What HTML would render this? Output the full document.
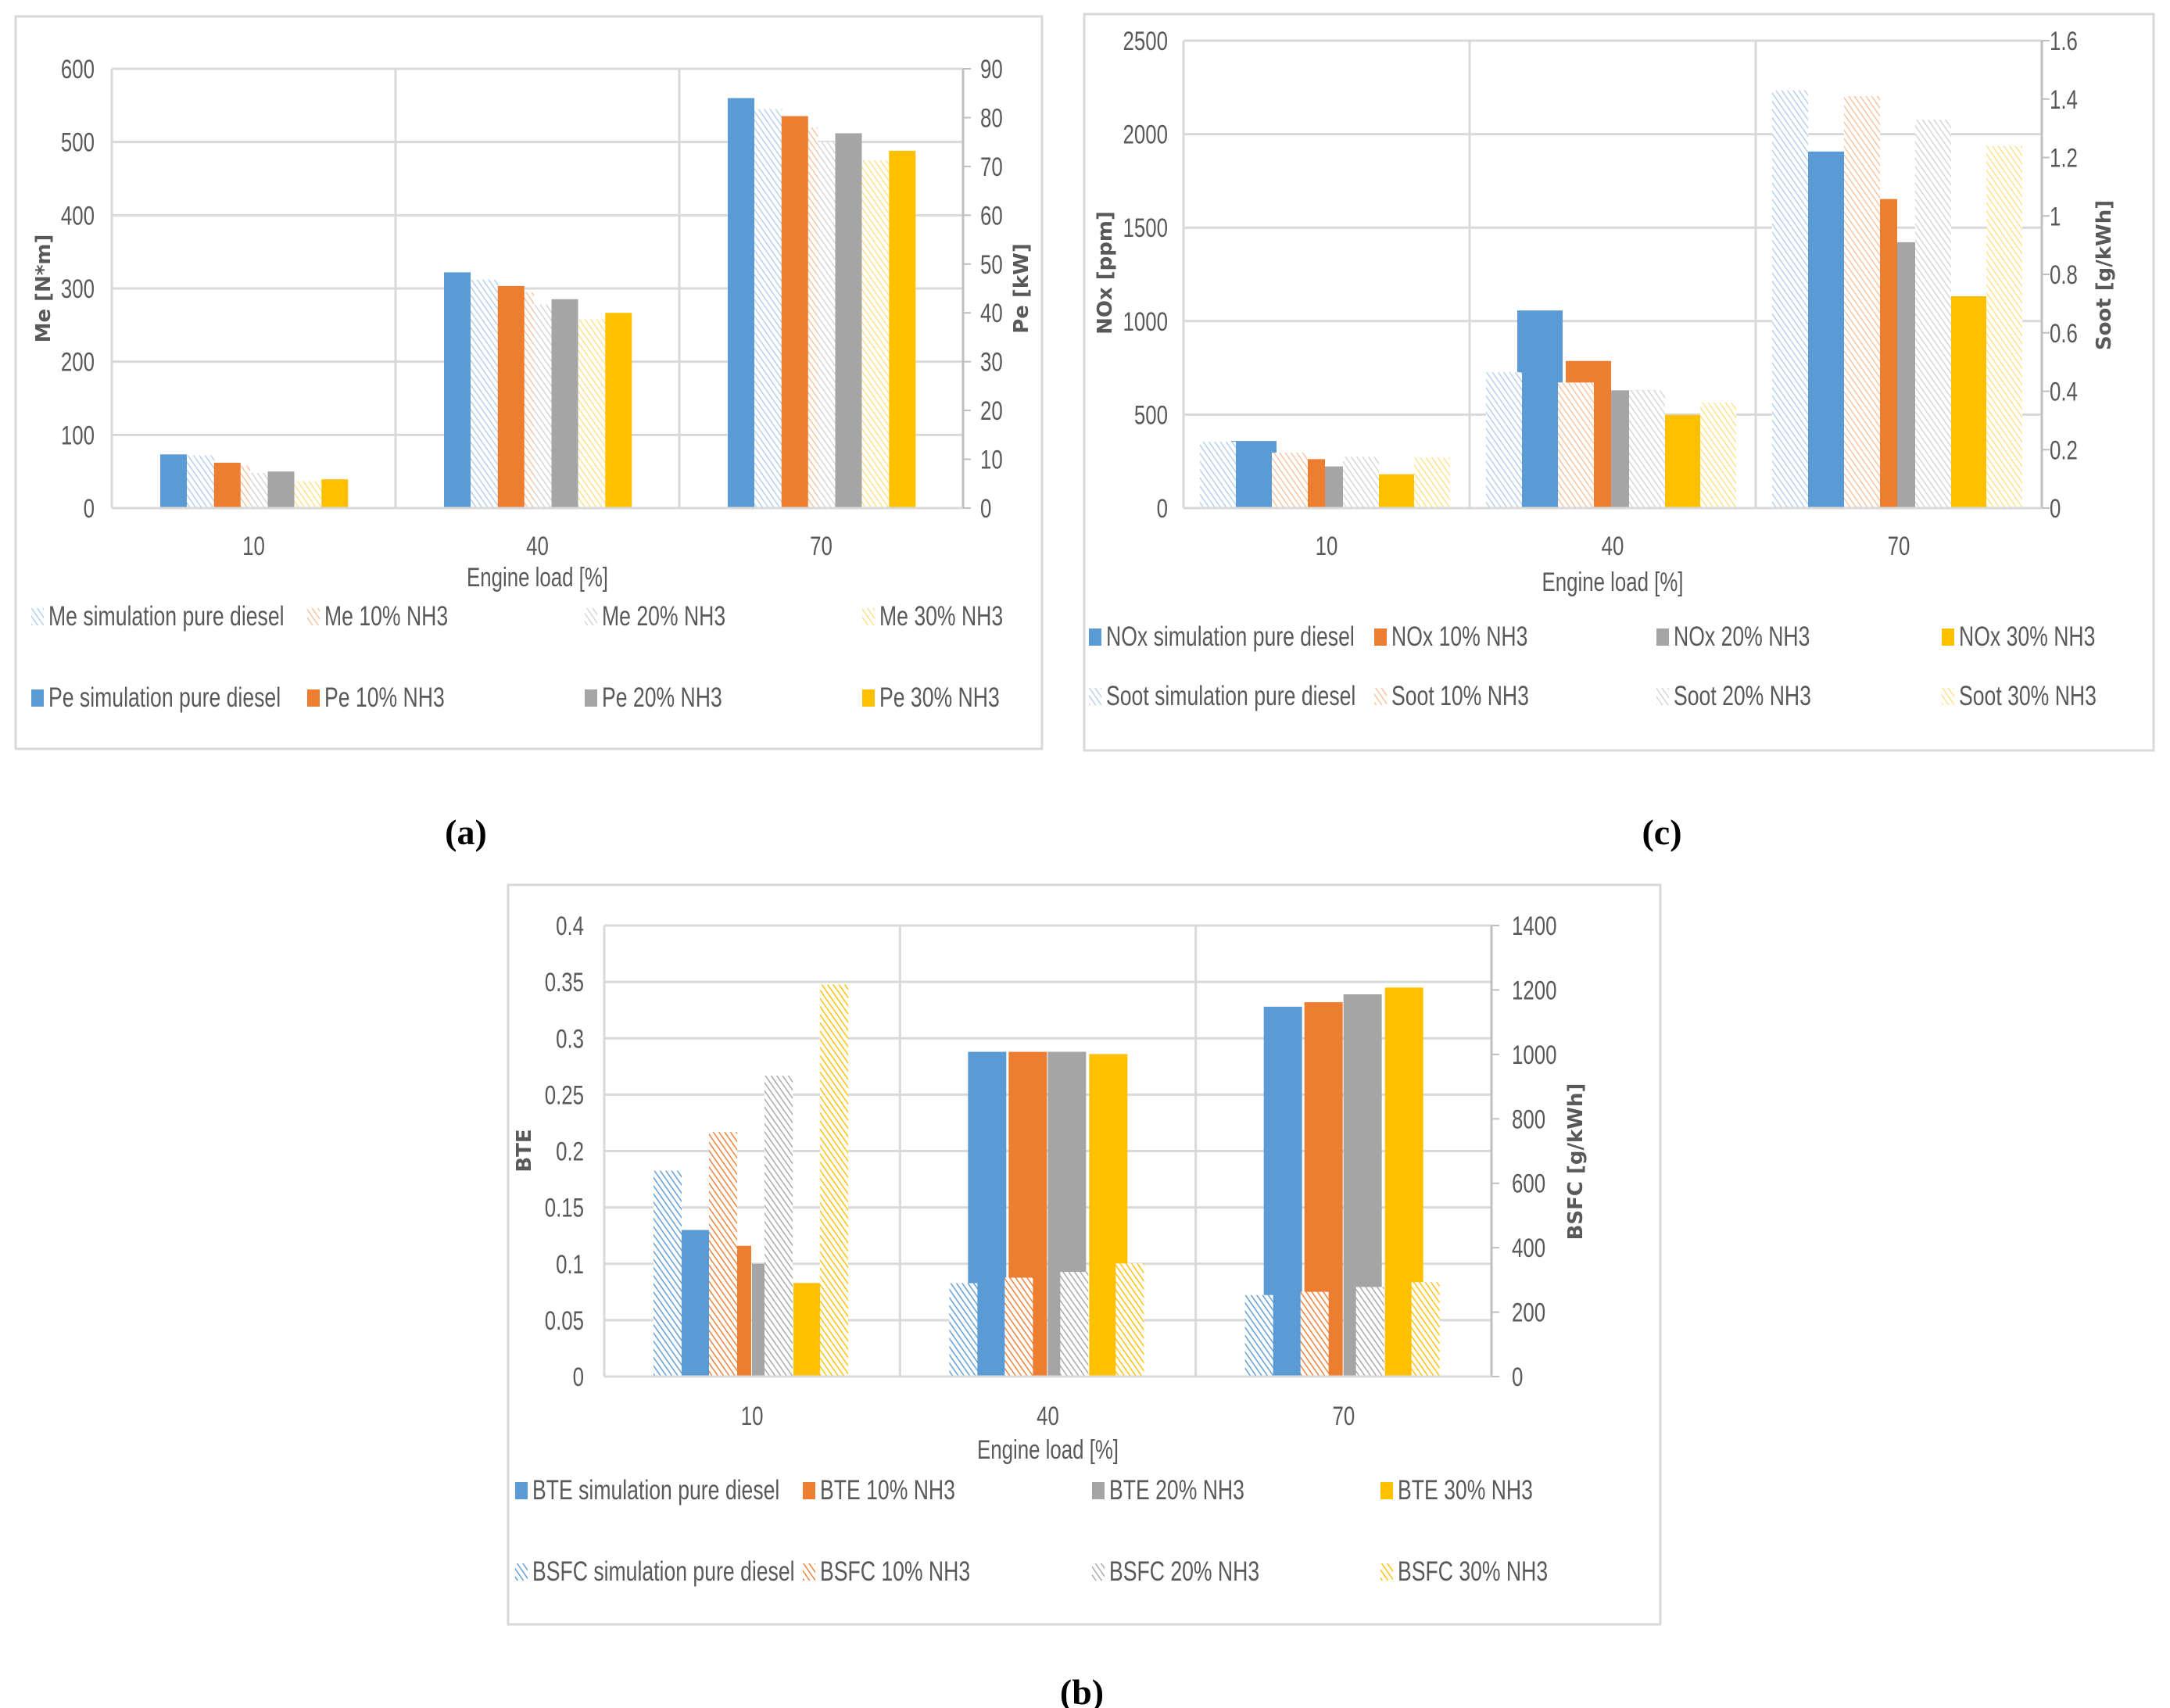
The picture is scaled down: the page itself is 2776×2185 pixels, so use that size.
<!DOCTYPE html>
<html><head><meta charset="utf-8"><title>Engine performance charts</title>
<style>
html,body{margin:0;padding:0;background:#fff;}
svg{display:block;}
text{font-family:"Liberation Sans",sans-serif;fill:#595959;}
.ttl{font-family:"DejaVu Sans","Liberation Sans",sans-serif;font-weight:bold;}
.lbl{font-family:"Liberation Serif",serif;font-weight:bold;fill:#000;}
</style></head>
<body>
<svg id="fig" width="2776" height="2185" viewBox="0 0 2776 2185" xmlns="http://www.w3.org/2000/svg">
<defs id="defs"></defs>
<rect width="2776" height="2185" fill="#fff"/>
</svg>
<script>
const cats=['10','40','70'];
// (a) torque and power
const meSim=[72,312,545], me10=[58,295,520], me20=[48,278,500], me30=[37,258,475];
const peSim=[11,48.3,84], pe10=[9.3,45.5,80.3], pe20=[7.5,42.8,76.8], pe30=[5.9,40,73.2];
const aLeftTicks=['0','100','200','300','400','500','600'];
const aRightTicks=['0','10','20','30','40','50','60','70','80','90'];
// (b) BTE and BSFC
const bteSim=[0.130,0.288,0.328], bte10=[0.116,0.288,0.332], bte20=[0.100,0.288,0.339], bte30=[0.083,0.286,0.345];
const bsfcSim=[639,290,253], bsfc10=[759,307,263], bsfc20=[934,325,278], bsfc30=[1217,351,293];
const bLeftTicks=['0','0.05','0.1','0.15','0.2','0.25','0.3','0.35','0.4'];
const bRightTicks=['0','200','400','600','800','1000','1200','1400'];
// (c) NOx and soot
const noxSim=[359,1057,1907], nox10=[262,787,1653], nox20=[223,630,1422], nox30=[181,498,1133];
const sootSim=[0.227,0.465,1.43], soot10=[0.19,0.43,1.41], soot20=[0.176,0.403,1.33], soot30=[0.173,0.361,1.24];
const cLeftTicks=['0','500','1000','1500','2000','2500'];
const cRightTicks=['0','0.2','0.4','0.6','0.8','1','1.2','1.4','1.6'];

const NS='http://www.w3.org/2000/svg';
const svg=document.getElementById('fig');
const defs=document.getElementById('defs');
const COL={blue:'#5b9bd5',orange:'#ed7d31',gray:'#a5a5a5',yellow:'#ffc000'};
const SX=0.76;
function mk(tag,attrs,parent){const e=document.createElementNS(NS,tag);for(const k in attrs)e.setAttribute(k,attrs[k]);(parent||svg).appendChild(e);return e;}
function ntext(x,y,str,size,anchor,parent){
  const t=mk('text',{x:0,y:0,'font-size':size,'text-anchor':anchor||'start',transform:'translate('+x+' '+y+') scale('+SX+' 1)'},parent);
  t.textContent=str;return t;
}
function hatch(id,color,op){
  const p=mk('pattern',{id:id,patternUnits:'userSpaceOnUse',width:6,height:6,patternTransform:'rotate(-35)'},defs);
  mk('rect',{width:6,height:6,fill:'#fff'},p);
  mk('line',{x1:0,y1:0,x2:0,y2:6,stroke:color,'stroke-width':3,'stroke-opacity':op},p);
}
for(const k in COL){hatch('hl-'+k,COL[k],0.45);hatch('hd-'+k,COL[k],0.95);}
const colorKeys=['blue','orange','gray','yellow'];

function panel(P){
  const g=mk('g',{});
  
  
  const fr=mk('rect',{x:P.fx0,y:P.fy0,width:P.fx1-P.fx0,height:P.fy1-P.fy0,fill:'#fff',stroke:'#d9d9d9','stroke-width':3},g);
  
  
  const H=P.y1-P.y0, cw=(P.x1-P.x0)/cats.length;
  const yL=v=>P.y1-v/P.lmax*H, yR=v=>P.y1-v/P.rmax*H, xC=i=>P.x0+i*cw;
  P.lt.forEach((t,i)=>{
    const y=P.y1-i*H/(P.lt.length-1);
    const gl=mk('line',{x1:P.x0,x2:P.x1,y1:y,y2:y,stroke:'#d9d9d9','stroke-width':3},g);
    
    
    const tx=ntext(P.ltx,y+12,t,34,'end',g);
    
    
  });
  P.rt.forEach((t,i)=>{
    const y=P.y1-i*H/(P.rt.length-1);
    mk('line',{x1:P.x1,x2:P.x1+10,y1:y,y2:y,stroke:'#bfbfbf','stroke-width':2},g);
    const tx=ntext(P.rtx,y+12,t,34,'start',g);
    
    
  });
  for(let i=1;i<cats.length;i++){const d=mk('line',{x1:xC(i),x2:xC(i),y1:P.y0,y2:P.y1,stroke:'#d9d9d9','stroke-width':3},g);
    
    }
  mk('line',{x1:P.x0,x2:P.x0,y1:P.y0,y2:P.y1,stroke:'#d9d9d9','stroke-width':3},g);
  mk('line',{x1:P.x1,x2:P.x1,y1:P.y0,y2:P.y1,stroke:'#bfbfbf','stroke-width':3},g);
  const drawSet=(S,axisFn)=>{
    S.series.forEach((arr,s)=>{
      arr.forEach((v,i)=>{
        const x=xC(i)+P.gOff+S.off[s], y=axisFn(v);
        const r=mk('rect',{x:x,y:y,width:S.w,height:P.y1-y,fill:S.fill(colorKeys[s])},g);
        
        
      });
    });
  };
  drawSet(P.back,P.back.axis==='L'?yL:yR);
  drawSet(P.front,P.front.axis==='L'?yL:yR);
  mk('line',{x1:P.x0,x2:P.x1,y1:P.y1,y2:P.y1,stroke:'#d9d9d9','stroke-width':3},g);
  cats.forEach((c,i)=>{const t=ntext(xC(i)+cw/2,P.catY,c,34,'middle',g);
    
    });
  const xt=ntext((P.x0+P.x1)/2,P.xtY,'Engine load [%]',34,'middle',g);
  
  
  const lt=mk('text',{x:P.ltX,y:P.ltY,'text-anchor':'middle','font-size':26,class:'ttl',transform:'rotate(-90 '+P.ltX+' '+P.ltY+')'},g);lt.textContent=P.lTitle;
  
  
  const rtt=mk('text',{x:P.rtX,y:P.rtY,'text-anchor':'middle','font-size':26,class:'ttl',transform:'rotate(-90 '+P.rtX+' '+P.rtY+')'},g);rtt.textContent=P.rTitle;
  
  
  P.legRows.forEach((row,r)=>{
    row.set.names.forEach((nm,s)=>{
      const x=P.legX[s], y=P.legY[r];
      const m=mk('rect',{x:x,y:y-22,width:16,height:22,fill:row.set.fill(colorKeys[s])},g);
      
      
      const t=ntext(x+22,y,nm,35,'start',g);
      
      
    });
  });
}
const solid=k=>COL[k], hl=k=>'url(#hl-'+k+')', hd=k=>'url(#hd-'+k+')';

const aMe={series:[meSim,me10,me20,me30],names:['Me simulation pure diesel','Me 10% NH3','Me 20% NH3','Me 30% NH3'],axis:'L',off:[24,69.5,115,160.5],w:45.5,fill:hl};
const aPe={series:[peSim,pe10,pe20,pe30],names:['Pe simulation pure diesel','Pe 10% NH3','Pe 20% NH3','Pe 30% NH3'],axis:'R',off:[0,68.75,137.5,206.25],w:34,fill:solid};
panel({name:'panel-a-torque-power',fx0:20,fy0:21,fx1:1333,fy1:958,x0:143,x1:1232,y0:88,y1:650,lmax:600,rmax:90,lt:aLeftTicks,rt:aRightTicks,ltx:121,rtx:1254,
  gOff:62,back:aMe,front:aPe,catY:710,xtY:750,lTitle:'Me [N*m]',ltX:64,ltY:369,rTitle:'Pe [kW]',rtX:1315,rtY:369,
  legRows:[{set:aMe},{set:aPe}],legX:[40,393,748,1103],legY:[800,904]});

const cNox={series:[noxSim,nox10,nox20,nox30],names:['NOx simulation pure diesel','NOx 10% NH3','NOx 20% NH3','NOx 30% NH3'],axis:'L',off:[40,102,160,229],w:58,fill:solid};
const cSoot={series:[sootSim,soot10,soot20,soot30],names:['Soot simulation pure diesel','Soot 10% NH3','Soot 20% NH3','Soot 30% NH3'],axis:'R',off:[0,92,183,274],w:46,fill:hl};
panel({name:'panel-c-nox-soot',fx0:1387,fy0:18,fx1:2755,fy1:960,x0:1514,x1:2612,y0:52,y1:650,lmax:2500,rmax:1.6,lt:cLeftTicks,rt:cRightTicks,ltx:1494,rtx:2622,
  gOff:21,back:cNox,front:cSoot,catY:710,xtY:756,lTitle:'NOx [ppm]',ltX:1422,ltY:349,rTitle:'Soot [g/kWh]',rtX:2700,rtY:352,
  legRows:[{set:cNox},{set:cSoot}],legX:[1393,1758,2119,2484],legY:[826,902]});

const bBte={series:[bteSim,bte10,bte20,bte30],names:['BTE simulation pure diesel','BTE 10% NH3','BTE 20% NH3','BTE 30% NH3'],axis:'L',off:[24,76,126,179],w:49,fill:solid};
const bBsfc={series:[bsfcSim,bsfc10,bsfc20,bsfc30],names:['BSFC simulation pure diesel','BSFC 10% NH3','BSFC 20% NH3','BSFC 30% NH3'],axis:'R',off:[0,71,142,213],w:36,fill:hd};
panel({name:'panel-b-bte-bsfc',fx0:650,fy0:1132,fx1:2124,fy1:2078,x0:773,x1:1908,y0:1184,y1:1761,lmax:0.4,rmax:1400,lt:bLeftTicks,rt:bRightTicks,ltx:747,rtx:1934,
  gOff:63,back:bBte,front:bBsfc,catY:1823,xtY:1866,lTitle:'BTE',ltX:679,ltY:1472,rTitle:'BSFC [g/kWh]',rtX:2024,rtY:1486,
  legRows:[{set:bBte},{set:bBsfc}],legX:[659,1027,1397,1766],legY:[1918,2022]});

[['(a)',596,1080,'panel-label-a'],['(c)',2126,1080,'panel-label-c'],['(b)',1384,2180,'panel-label-b']].forEach(a=>{
  const t=mk('text',{x:a[1],y:a[2],'text-anchor':'middle','font-size':46,class:'lbl'});t.textContent=a[0];
  
  
});
</script>
</body></html>
